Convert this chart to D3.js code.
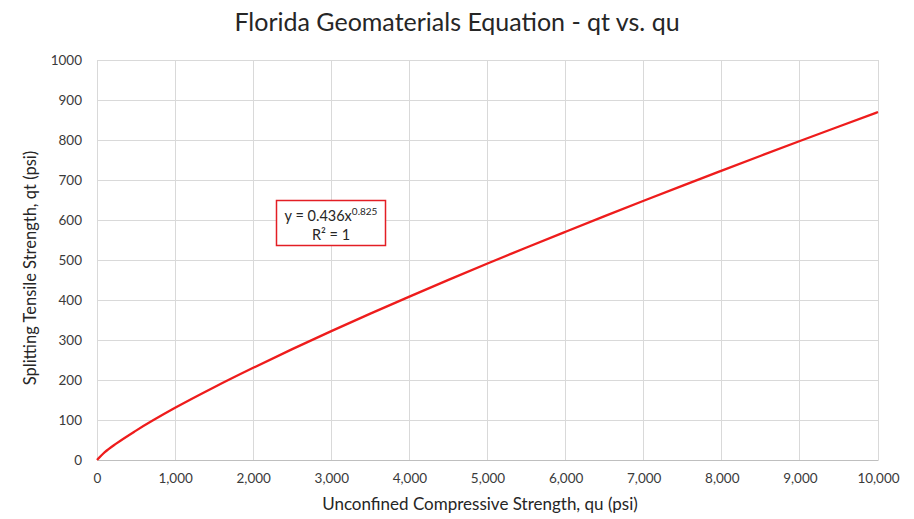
<!DOCTYPE html>
<html>
<head>
<meta charset="utf-8">
<script src="https://cdn.jsdelivr.net/npm/d3@7"></script>
<style>
  html, body { margin: 0; padding: 0; background: #fff; }
  svg { display: block; font-family: Lato, "Open Sans", sans-serif; }
</style>
</head>
<body>
<svg id="chart" width="914" height="519"></svg>
<script>
// Unconfined compressive strength qu (psi) and splitting tensile strength qt (psi)
const quValues = [0, 100, 250, 500, 1000, 1500, 2000, 2500, 3000, 3500, 4000, 4500,
                  5000, 5500, 6000, 6500, 7000, 7500, 8000, 8500, 9000, 9500, 10000];
const qtValues = [0, 19.5, 41.5, 73.5, 130.4, 181.9, 230.5, 277.1, 322.2, 365.9, 408.5, 450.2,
                  491.1, 531.3, 570.7, 609.7, 648.1, 686.1, 723.5, 760.6, 797.4, 833.8, 869.9];
const xTicks = [0, 1000, 2000, 3000, 4000, 5000, 6000, 7000, 8000, 9000, 10000];
const yTicks = [0, 100, 200, 300, 400, 500, 600, 700, 800, 900, 1000];
const titleText = "Florida Geomaterials Equation - qt vs. qu";
const xLabel = "Unconfined Compressive Strength, qu (psi)";
const yLabel = "Splitting Tensile Strength, qt (psi)";
const trendLine1 = "y = 0.436x";
const trendExp = "0.825";
const trendLine2 = "R² = 1";

const svg = d3.select("#chart");
const margin = { left: 97, right: 36, top: 60, bottom: 59 };
const W = 914, H = 519;
const x = d3.scaleLinear().domain([0, 10000]).range([margin.left, W - margin.right]);
const y = d3.scaleLinear().domain([0, 1000]).range([H - margin.bottom, margin.top]);

// gridlines
svg.append("g").selectAll("line.h").data(yTicks.filter(d => d > 0)).join("line")
  .attr("x1", x(0)).attr("x2", x(10000))
  .attr("y1", d => y(d)).attr("y2", d => y(d))
  .attr("stroke", "#d9d9d9").attr("stroke-width", 1).attr("shape-rendering", "crispEdges");
svg.append("g").selectAll("line.v").data(xTicks).join("line")
  .attr("x1", d => x(d)).attr("x2", d => x(d))
  .attr("y1", y(0)).attr("y2", y(1000))
  .attr("stroke", "#d9d9d9").attr("stroke-width", 1).attr("shape-rendering", "crispEdges");

// x axis
const xAxis = svg.append("g").attr("transform", `translate(0,${y(0)})`)
  .call(d3.axisBottom(x).tickValues(xTicks).tickSize(0).tickPadding(13).tickFormat(d3.format(",")));
xAxis.select(".domain").attr("stroke", "#bfbfbf");
xAxis.selectAll("text").attr("font-size", 13.5).attr("fill", "#3a3a3a")
  .attr("font-family", "Lato, 'Open Sans', sans-serif");

// y axis
const yAxis = svg.append("g").attr("transform", `translate(${x(0)},0)`)
  .call(d3.axisLeft(y).tickValues(yTicks).tickSize(0).tickPadding(15).tickFormat(d3.format("d")));
yAxis.select(".domain").remove();
yAxis.selectAll("text").attr("font-size", 13.5).attr("fill", "#3a3a3a")
  .attr("font-family", "Lato, 'Open Sans', sans-serif");

// fitted power curve
const line = d3.line().x((d, i) => x(quValues[i])).y(d => y(d)).curve(d3.curveMonotoneX);
svg.append("path").datum(qtValues).attr("d", line)
  .attr("fill", "none").attr("stroke", "#ee1c1c").attr("stroke-width", 2.3);

// title
svg.append("text").attr("x", 457).attr("y", 31).attr("text-anchor", "middle")
  .attr("font-size", 25).attr("fill", "#262626").text(titleText);

// axis titles
svg.append("text").attr("x", 480).attr("y", 510).attr("text-anchor", "middle")
  .attr("font-size", 17).attr("fill", "#262626").text(xLabel);
svg.append("text").attr("transform", `translate(36,268) rotate(-90)`)
  .attr("text-anchor", "middle").attr("font-size", 16.5).attr("fill", "#262626").text(yLabel);

// trendline equation box
const box = svg.append("g");
box.append("rect").attr("x", 276.5).attr("y", 200.5).attr("width", 109).attr("height", 45)
  .attr("fill", "#fff").attr("stroke", "#e31e24").attr("stroke-width", 1.5);
const eq = box.append("text").attr("x", 331).attr("y", 221).attr("text-anchor", "middle")
  .attr("font-size", 14.5).attr("fill", "#262626");
eq.append("tspan").text(trendLine1);
eq.append("tspan").attr("dy", -6).attr("font-size", 10).text(trendExp);
box.append("text").attr("x", 331).attr("y", 240).attr("text-anchor", "middle")
  .attr("font-size", 14.5).attr("fill", "#262626").text(trendLine2);
</script>
</body>
</html>
